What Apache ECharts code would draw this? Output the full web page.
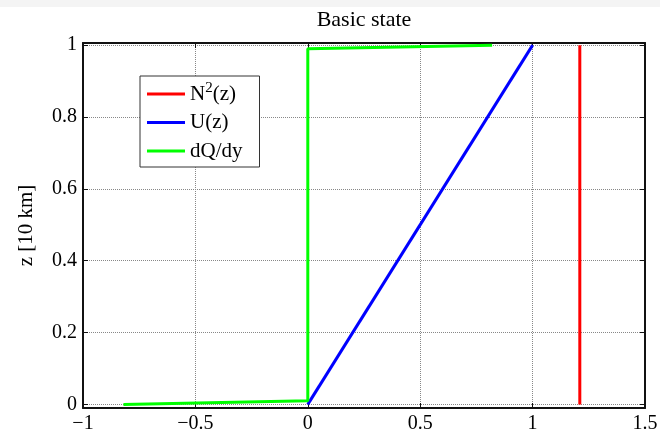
<!DOCTYPE html>
<html>
<head>
<meta charset="utf-8">
<title>Basic state</title>
<script src="https://cdn.jsdelivr.net/npm/echarts@6/dist/echarts.min.js"></script>
<style>
html, body { margin:0; padding:0; background:#fff; }
#basicstate { width:660px; height:434px; }
</style>
</head>
<body>
<div id="basicstate"></div>
<script>
// basic state profiles, height z in units of 10 km
var zLevels  = [0, 1];
var n2Values = [1.21, 1.21];
var uValues  = [0, 1];
var dqdyX    = [-0.82, 0, 0, 0.82];
var dqdyZ    = [0, 0.01, 0.99, 1];
var xTicks   = [-1, -0.5, 0, 0.5, 1, 1.5];
var zTicks   = [0, 0.2, 0.4, 0.6, 0.8, 1];
var seriesNames = ['N2(z)', 'U(z)', 'dQ/dy'];

var serif = 'Liberation Serif';

function pairs(xs, zs){
	var out = [];
	for (var i = 0; i < xs.length; i++){
		out.push([xs[i], zs[i]]);
	}
	return out;
}

// matlab style minus sign
function tickText(v){
	if (v < 0) return '\u2212' + Math.abs(v);
	return String(v);
}

function boxAxis(pos, isX){
	var ax = {
		type:'value',
		position:pos,
		axisLine:{show:true, onZero:false, lineStyle:{color:'#111', width:2}},
		axisTick:{show:true, inside:true, length:5, lineStyle:{color:'#111', width:1}},
		axisLabel:{show:false},
		splitLine:{show:false}
	};
	if (isX){
		ax.min = xTicks[0]; ax.max = xTicks[xTicks.length - 1]; ax.interval = 0.5;
	} else {
		// a little room below 0 and above 1, like the matlab box
		ax.min = -0.01; ax.max = 1.006;
		ax.axisTick.customValues = zTicks;
		ax.axisLabel.customValues = zTicks;
	}
	return ax;
}

var chart = echarts.init(document.getElementById('basicstate'));

var xBottom = boxAxis('bottom', true);
xBottom.axisLabel = {show:true, fontFamily:serif, fontSize:20, color:'#000', margin:6, formatter:tickText};
xBottom.splitLine = {show:true, lineStyle:{color:'#888', type:'dotted', width:1}};

var yLeft = boxAxis('left', false);
yLeft.axisLabel = {show:true, customValues:zTicks, fontFamily:serif, fontSize:20, color:'#000', margin:6, formatter:tickText};
yLeft.splitLine = {show:true, lineStyle:{color:'#888', type:'dotted', width:1}};
yLeft.name = 'z [10 km]';
yLeft.nameLocation = 'middle';
yLeft.nameGap = 46;
yLeft.nameTextStyle = {fontFamily:serif, fontSize:21, color:'#000'};

var option = {
	animation:false,
	backgroundColor:'#fff',
	graphic:[{
		type:'rect', left:0, top:0, z:-1,
		shape:{width:660, height:7},
		style:{fill:'#f4f4f4'}
	}],
	title:{
		text:'Basic state',
		left:364,
		textAlign:'center',
		top:9,
		padding:0,
		textStyle:{fontFamily:serif, fontSize:22, fontWeight:'normal', color:'#000'}
	},
	grid:{left:83, right:15, top:43, bottom:26, outerBoundsMode:'none'},
	legend:{
		orient:'vertical',
		left:140,
		top:76,
		padding:[5, 17, 3, 7],
		itemGap:2.5,
		itemWidth:38,
		itemHeight:3,
		itemTextGap:5,
		icon:'rect',
		backgroundColor:'#fff',
		borderColor:'#333',
		borderWidth:1,
		borderRadius:0,
		data:seriesNames,
		formatter:function(name){
			if (name == 'N2(z)') return 'N{sup|2}(z)';
			return name;
		},
		textStyle:{
			fontFamily:serif, fontSize:21, color:'#000', lineHeight:26,
			rich:{
				sup:{fontFamily:serif, fontSize:15, color:'#000', verticalAlign:'top', lineHeight:15}
			}
		}
	},
	xAxis:[xBottom, boxAxis('top', true)],
	yAxis:[yLeft, boxAxis('right', false)],
	series:[{
		name:seriesNames[0],
		type:'line',
		showSymbol:false,
		symbol:'none',
		color:'#ff0000',
		lineStyle:{width:3, color:'#ff0000'},
		data:pairs(n2Values, zLevels)
	},{
		name:seriesNames[1],
		type:'line',
		showSymbol:false,
		symbol:'none',
		color:'#0000ff',
		lineStyle:{width:3, color:'#0000ff'},
		data:pairs(uValues, zLevels)
	},{
		name:seriesNames[2],
		type:'line',
		showSymbol:false,
		symbol:'none',
		color:'#00ff00',
		lineStyle:{width:3, color:'#00ff00'},
		data:pairs(dqdyX, dqdyZ)
	}]
};

chart.setOption(option);
</script>
</body>
</html>
